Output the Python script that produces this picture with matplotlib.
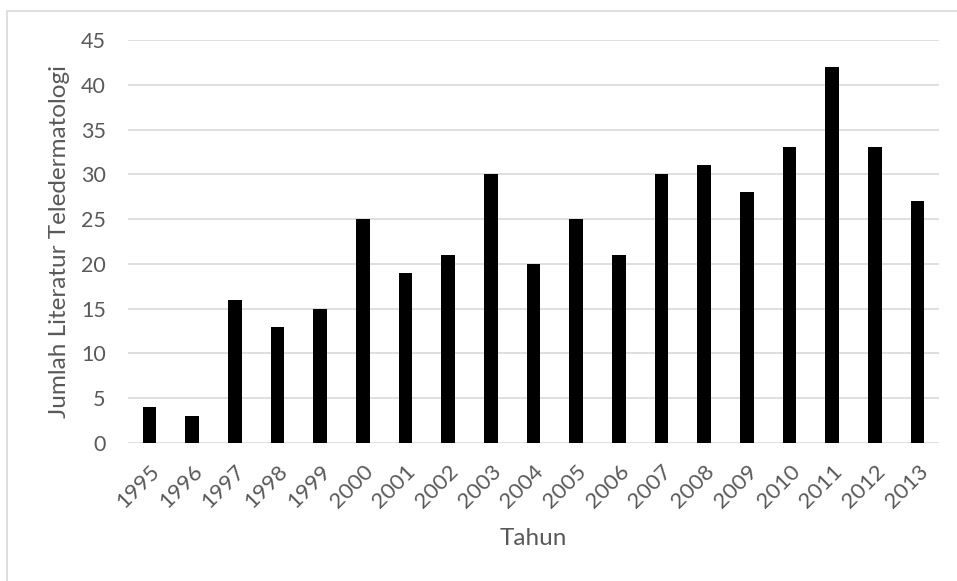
import numpy as np
import matplotlib.pyplot as plt
from matplotlib.patches import Rectangle

# jumlah literatur per tahun
tahun = ['1995', '1996', '1997', '1998', '1999', '2000', '2001', '2002',
         '2003', '2004', '2005', '2006', '2007', '2008', '2009', '2010',
         '2011', '2012', '2013']
jumlah = [4, 3, 16, 13, 15, 25, 19, 21, 30, 20, 25, 21, 30, 31, 28, 33,
          42, 33, 27]

plt.rcParams['font.family'] = ['Lato', 'DejaVu Sans']
abu = '#595959'
garis = '#d9d9d9'

fig = plt.figure(figsize=(9.57, 5.81), dpi=100)
ax = fig.add_axes([128/957, 1-443/581, (939-128)/957, (443-40)/581])

x = np.arange(len(tahun))
ax.bar(x, jumlah, width=0.32, color='black', zorder=3)

ax.set_xlim(-0.5, len(tahun)-0.5)
ax.set_ylim(0, 45)
ax.set_yticks(np.arange(0, 46, 5))
ax.set_xticks(x)
ax.set_xticklabels(tahun, rotation=45, ha='right', rotation_mode='anchor')
ax.tick_params(axis='both', length=0, labelsize=15.5, colors=abu)
ax.tick_params(axis='x', pad=13, labelsize=16)
ax.tick_params(axis='y', pad=16)

# garis bantu horizontal
ax.grid(axis='y', color=garis, linewidth=1.2, zorder=0)
for s in ax.spines.values():
    s.set_visible(False)

ax.set_xlabel('Tahun', fontsize=17.5, color=abu)
ax.set_ylabel('Jumlah Literatur Teledermatologi', fontsize=17.5, color=abu)
ax.xaxis.set_label_coords(0.5, -0.21)
ax.yaxis.set_label_coords(-0.072, 0.5)

# bingkai area grafik
fig.patches.append(Rectangle((7/957, -0.05), 1.1, 1-11/581+0.05,
                             transform=fig.transFigure, fill=False,
                             edgecolor=garis, linewidth=1.2))

fig.savefig('out.png', dpi=100)
